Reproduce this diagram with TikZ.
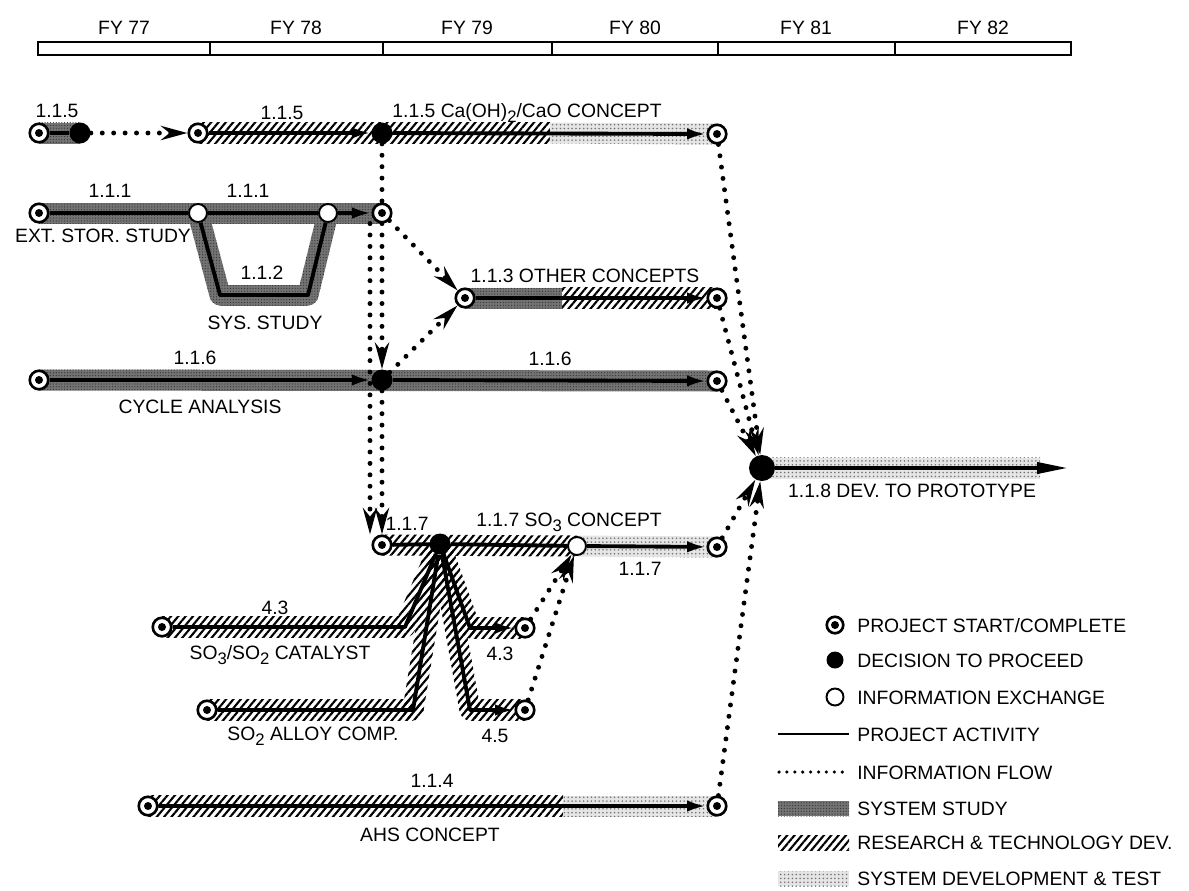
\documentclass[tikz,border=0pt]{standalone}
\usepackage{fontspec}
\setmainfont{Liberation Sans}
\usetikzlibrary{calc,arrows.meta,patterns.meta,backgrounds}

\newcommand{\lowsub}[1]{\raisebox{-0.55ex}{\fontsize{9.5}{9.5}\selectfont #1}}
\newcommand{\bandw}{0.21cm}
% band segment between two points, as a filled strip
\newcommand{\seg}[3]{\path[#1] ($(#2)!\bandw!90:(#3)$) -- ($(#3)!\bandw!-90:(#2)$) -- ($(#3)!\bandw!90:(#2)$) -- ($(#2)!\bandw!-90:(#3)$) -- cycle;}
\newcommand{\joint}[2]{\path[#1] (#2) circle (\bandw);}

\begin{document}
\begin{tikzpicture}[x=0.02cm, y=-0.02cm,
  startend/.style={circle, draw, line width=1.5pt, fill=white, minimum size=0.37cm, inner sep=0pt,
                   path picture={\fill[black] (path picture bounding box.center) circle (0.08cm);}},
  decide/.style={circle, fill=black, minimum size=0.42cm, inner sep=0pt},
  infox/.style={circle, draw, line width=1.1pt, fill=white, minimum size=0.36cm, inner sep=0pt},
  lbl/.style={font=\fontsize{11}{13}\selectfont, inner sep=0pt, text height=8pt, text depth=0pt},
  act/.style={line width=2.2pt},
  actarr/.style={act, -{Latex[length=11pt,width=6.5pt]}},
  flow/.style={line width=2.8pt, line cap=round, dash pattern=on 0pt off 6.5pt,
               -{Stealth[length=15pt,width=8pt]}},
  sysband/.style={fill=black!55, postaction={pattern={Dots[distance=1.6pt,radius=0.35pt]}, pattern color=black!80}},
  rtdband/.style={pattern={Lines[angle=50,distance=3.2pt,line width=1.2pt]}, pattern color=black},
  devband/.style={fill=black!10, postaction={pattern={Dots[distance=2.2pt,radius=0.5pt]}, pattern color=black!55}},
]
\useasboundingbox (0,0) rectangle (1189,890);

% fiscal years
\draw[line width=1.3pt] (38,42) rectangle (1071,55);
\foreach \xd in {210,383,552,718,895} \draw[line width=1.3pt] (\xd,42) -- (\xd,55);
\foreach \xl/\yr in {124/77, 296/78, 467/79, 635/80, 806/81, 983/82}
  \node[lbl] (fy\yr) at (\xl,27) {FY \yr};

% milestones
\node[startend] (p5a) at (39,133) {};
\node[decide]   (d5a) at (80,133) {};
\node[startend] (p5b) at (198,133) {};
\node[decide]   (d5b) at (382,133) {};
\node[startend] (e5)  at (717,134) {};
\coordinate (c5) at (550,133);

\node[startend] (p1) at (39,213) {};
\node[infox]    (i1) at (198,213) {};
\node[infox]    (i2) at (328,213) {};
\node[startend] (e1) at (382,213) {};
\coordinate (t1) at (220,295);
\coordinate (t2) at (308,295);

\node[startend] (p3) at (465,298) {};
\node[startend] (e3) at (717,298) {};
\coordinate (c3) at (562,298);

\node[startend] (p6) at (39,380) {};
\node[decide]   (d6) at (382,380) {};
\node[startend] (e6) at (717,381) {};

\node[startend] (p7) at (382,545) {};
\node[decide]   (d7) at (440,544) {};
\node[infox]    (i7) at (577,546) {};
\node[startend] (e7) at (717,547) {};

\node[startend] (p43) at (162,627) {};
\coordinate (ka43) at (405,627);
\node[startend] (pa) at (207,710) {};
\coordinate (kaa) at (413,710);
\coordinate (kb43) at (470,628);
\node[startend] (e43) at (525,628) {};
\coordinate (kb45) at (470,710);
\node[startend] (e45) at (525,710) {};

\node[startend] (p4) at (148,806) {};
\node[startend] (e4) at (717,806) {};
\coordinate (c4) at (563,806);

\node[decide, minimum size=0.52cm] (d8) at (762,468) {};
\coordinate (c8) at (1040,468);
\coordinate (t8) at (1068,468);

% bands
\begin{scope}[on background layer]
\seg{sysband}{p5a}{d5a}
\seg{rtdband}{p5b}{c5} \seg{devband}{c5}{e5}
\seg{sysband}{p1}{e1}
\seg{sysband}{i1}{t1} \seg{sysband}{t1}{t2} \seg{sysband}{t2}{i2}
\joint{sysband}{t1} \joint{sysband}{t2}
\seg{sysband}{p3}{c3} \seg{rtdband}{c3}{e3}
\seg{sysband}{p6}{e6}
\seg{rtdband}{p7}{i7} \seg{devband}{i7}{e7}
\seg{rtdband}{p43}{ka43} \seg{rtdband}{ka43}{d7} \joint{rtdband}{ka43}
\seg{rtdband}{pa}{kaa} \seg{rtdband}{kaa}{d7} \joint{rtdband}{kaa}
\seg{rtdband}{d7}{kb43} \seg{rtdband}{kb43}{e43} \joint{rtdband}{kb43}
\seg{rtdband}{d7}{kb45} \seg{rtdband}{kb45}{e45} \joint{rtdband}{kb45}
\seg{rtdband}{p4}{c4} \seg{devband}{c4}{e4}
\seg{devband}{d8}{c8}
\end{scope}

% project activities
\draw[act] (p5a) -- (d5a);
\draw[actarr] (p5b) -- (d5b); \draw[actarr] (d5b) -- (e5);
\draw[act] (p1) -- (i1); \draw[act] (i1) -- (i2); \draw[actarr] (i2) -- (e1);
\draw[act, line join=round] (i1) -- (t1) -- (t2) -- (i2);
\draw[actarr] (p3) -- (e3);
\draw[actarr] (p6) -- (d6); \draw[actarr] (d6) -- (e6);
\draw[act] (p7) -- (d7); \draw[act] (d7) -- (i7); \draw[actarr] (i7) -- (e7);
\draw[act, line join=round] (p43) -- (ka43) -- (d7);
\draw[act, line join=round] (pa) -- (kaa) -- (d7);
\draw[actarr, line join=round] (d7) -- (kb43) -- (e43);
\draw[actarr, line join=round] (d7) -- (kb45) -- (e45);
\draw[actarr] (p4) -- (e4);
\draw[act, -{Triangle[length=0.62cm,width=0.22cm]}] (d8) -- (t8);

% information flow
\draw[flow] (d5a) -- (p5b);
\draw[flow, -] (d5b) -- (e1);
\draw[flow] ([xshift=-0.24cm]e1.south) -- ([xshift=-0.24cm]e1.south |- p7.north);
\draw[flow] (e1) -- (d6);
\draw[flow] (d6) -- (p7);
\draw[flow] (e1) -- (p3);
\draw[flow] (d6) -- (p3);
\draw[flow] (e43) -- (i7);
\draw[flow] (e45) -- (i7);
\draw[flow] (e5) -- (d8);
\draw[flow] (e3) -- (d8);
\draw[flow] (e6) -- (d8);
\draw[flow] (e7) -- (d8);
\draw[flow] (e4) -- (d8);

% labels
\node[lbl] (l5a) at (57,110) {1.1.5};
\node[lbl] (l5b) at (282,112) {1.1.5};
\node[lbl] (l5c) at (527,110) {1.1.5 Ca(OH)\lowsub{2}/CaO CONCEPT};
\node[lbl] (l1a) at (110,190) {1.1.1};
\node[lbl] (l1b) at (248,190) {1.1.1};
\node[lbl] (l1c) at (103,235) {EXT. STOR. STUDY};
\node[lbl] (l2a) at (262,272) {1.1.2};
\node[lbl] (l2b) at (265,322) {SYS. STUDY};
\node[lbl] (l3) at (585,275) {1.1.3 OTHER CONCEPTS};
\node[lbl] (l6a) at (195,357) {1.1.6};
\node[lbl] (l6b) at (550,358) {1.1.6};
\node[lbl] (l6c) at (200,406) {CYCLE ANALYSIS};
\node[lbl] (l7a) at (407,523) {1.1.7};
\node[lbl] (l7b) at (569,519) {1.1.7 SO\lowsub{3} CONCEPT};
\node[lbl] (l7c) at (640,568) {1.1.7};
\node[lbl] (l43a) at (275,607) {4.3};
\node[lbl] (l43b) at (280,652) {SO\lowsub{3}/SO\lowsub{2} CATALYST};
\node[lbl] (l43c) at (500,653) {4.3};
\node[lbl] (l45a) at (313,733) {SO\lowsub{2} ALLOY COMP.};
\node[lbl] (l45b) at (495,735) {4.5};
\node[lbl] (l4a) at (432,780) {1.1.4};
\node[lbl] (l4b) at (430,834) {AHS CONCEPT};
\node[lbl] (l8) at (912,490) {1.1.8 DEV. TO PROTOTYPE};

% key
\node[startend, minimum size=0.33cm] (lg1) at (835,625) {};
\node[lbl, anchor=west] (lt1) at (857,625) {PROJECT START/COMPLETE};
\node[decide, minimum size=0.34cm] (lg2) at (835,660) {};
\node[lbl, anchor=west] (lt2) at (857,660) {DECISION TO PROCEED};
\node[infox, minimum size=0.34cm] (lg3) at (835,697) {};
\node[lbl, anchor=west] (lt3) at (857,697) {INFORMATION EXCHANGE};
\coordinate (la4) at (778,734); \coordinate (lb4) at (849,734);
\draw[act, line width=1.6pt] (la4) -- (lb4);
\node[lbl, anchor=west] (lt4) at (857,734) {PROJECT ACTIVITY};
\coordinate (la5) at (779,772); \coordinate (lb5) at (847,772);
\draw[flow, -, line width=2pt, dash pattern=on 0pt off 4.5pt] (la5) -- (lb5);
\node[lbl, anchor=west] (lt5) at (857,772) {INFORMATION FLOW};
\path[sysband] (778,801) rectangle (849,816);
\node[lbl, anchor=west] (lt6) at (857,808) {SYSTEM STUDY};
\path[rtdband] (778,835) rectangle (849,850);
\node[lbl, anchor=west] (lt7) at (857,842) {RESEARCH \& TECHNOLOGY DEV.};
\path[devband] (778,871) rectangle (849,886);
\node[lbl, anchor=west] (lt8) at (857,878) {SYSTEM DEVELOPMENT \& TEST};
\end{tikzpicture}
\end{document}
